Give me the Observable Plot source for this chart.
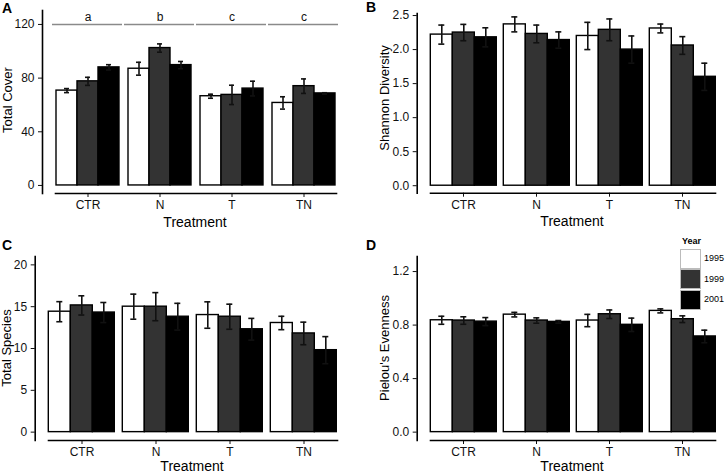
<!DOCTYPE html>
<html><head><meta charset="utf-8">
<script src="https://cdn.jsdelivr.net/npm/d3@7"></script>
<script src="https://cdn.jsdelivr.net/npm/@observablehq/plot@0.6"></script>
<style>
body{margin:0;background:#fff;}
#wrap{position:relative;width:728px;height:472px;overflow:hidden;font-family:"Liberation Sans",Arial,Helvetica,sans-serif;}
.panel{position:absolute;}
.lbl{position:absolute;white-space:nowrap;color:#000;line-height:1;transform:translate(-50%,-50%);}
.rot{transform:translate(-50%,-50%) rotate(-90deg);}
.tag{position:absolute;font-weight:bold;font-size:14px;line-height:1;color:#000;}
.key{position:absolute;width:21px;height:20px;box-sizing:border-box;border:1px solid #bbb;}
.klab{position:absolute;font-size:9px;line-height:1;color:#000;}
</style></head><body><div id="wrap"></div>
<script>
// ---- data (rows = treatments, columns = years) ----
const treatments = ["CTR", "N", "T", "TN"];
const years = ["1995", "1999", "2001"];
const yearColors = ["#ffffff", "#333333", "#000000"];

const coverMean = [[70.7, 77.6, 88.0], [87.0, 102.4, 89.7], [66.5, 67.5, 72.2], [61.5, 74.0, 68.6]];
const coverSE   = [[1.5, 3.0, 2.0], [4.8, 3.1, 2.7], [1.5, 7.2, 5.5], [4.6, 5.4, 0.5]];
const coverLetters = ["a", "b", "c", "c"];
const coverLetterLevel = 120;

const shannonMean = [[2.22, 2.25, 2.18], [2.37, 2.23, 2.14], [2.20, 2.29, 2.00], [2.31, 2.06, 1.60]];
const shannonSE   = [[0.14, 0.12, 0.14], [0.11, 0.13, 0.12], [0.20, 0.16, 0.20], [0.065, 0.13, 0.20]];

const speciesMean = [[14.4, 15.15, 14.3], [15.0, 15.0, 13.8], [14.0, 13.8, 12.3], [13.05, 11.8, 9.8]];
const speciesSE   = [[1.2, 1.15, 1.2], [1.5, 1.68, 1.6], [1.58, 1.5, 1.3], [0.8, 1.35, 1.62]];

const evenMean = [[0.836, 0.834, 0.826], [0.878, 0.834, 0.824], [0.834, 0.881, 0.802], [0.906, 0.844, 0.715]];
const evenSE   = [[0.03, 0.028, 0.03], [0.017, 0.02, 0.01], [0.046, 0.032, 0.05], [0.015, 0.025, 0.047]];

const coverTicks = [0, 40, 80, 120];
const shannonTicks = [0, 0.5, 1.0, 1.5, 2.0, 2.5];
const speciesTicks = [0, 5, 10, 15, 20];
const evenTicks = [0, 0.4, 0.8, 1.2];

// ---- helpers ----
function rows(means, ses) {
  return treatments.flatMap((t, i) => years.map((yr, j) => ({treatment: t, year: yr, mean: means[i][j], se: ses[i][j]})));
}
const FONT = '"Liberation Sans", Arial, Helvetica, sans-serif';
const STYLE = {fontFamily: FONT, fontSize: "12px", color: "#111", background: "transparent", overflow: "visible"};

function panel(o) {
  const data = rows(o.means, o.ses);
  const dims = {width: o.width, height: o.height, marginLeft: o.ml, marginRight: o.mr, marginTop: o.mt, marginBottom: o.mb};
  const main = Plot.plot({
    ...dims,
    style: STYLE,
    fx: {domain: treatments, paddingInner: 0.1, paddingOuter: 0.15, axis: "bottom", label: null, tickSize: 4, tickPadding: 3},
    x: {domain: years, padding: 0, axis: null},
    y: {domain: o.domain, axis: null},
    color: {domain: years, range: yearColors},
    marks: [
      Plot.barY(data, {fx: "treatment", x: "year", y: "mean", fill: "year", stroke: "#000", strokeWidth: 1.4}),
      Plot.ruleX(data, {fx: "treatment", x: "year", y1: d => d.mean - d.se, y2: d => d.mean + d.se, stroke: "#111", strokeWidth: 1.6}),
      Plot.tickY(data, {fx: "treatment", x: "year", y: d => d.mean + d.se, insetLeft: 8, insetRight: 8, stroke: "#111", strokeWidth: 1.6}),
      Plot.tickY(data, {fx: "treatment", x: "year", y: d => d.mean - d.se, insetLeft: 8, insetRight: 8, stroke: "#111", strokeWidth: 1.6}),
      ...(o.extra || []),
      Plot.frame({facet: "super", anchor: "bottom", stroke: "#000", strokeWidth: 1.6})
    ]
  });
  // overlay with the y axis, anchored at the panel's left edge (same y scale)
  const axis = Plot.plot({
    ...dims,
    style: STYLE,
    y: {domain: o.domain, axis: null},
    marks: [
      Plot.axisY({ticks: o.ticks, tickFormat: o.fmt, tickSize: 4, tickPadding: 4, label: null, fontSize: 12}),
      Plot.frame({anchor: "left", stroke: "#000", strokeWidth: 1.6})
    ]
  });
  return [main, axis];
}

const wrap = document.getElementById("wrap");
function place(nodes, left, top) {
  for (const node of nodes) {
    node.classList.add("panel");
    node.style.left = left + "px";
    node.style.top = top + "px";
    wrap.appendChild(node);
  }
}
function label(text, x, y, size, rotate) {
  const d = document.createElement("div");
  d.className = "lbl" + (rotate ? " rot" : "");
  d.textContent = text;
  d.style.left = x + "px";
  d.style.top = y + "px";
  d.style.fontSize = size + "px";
  wrap.appendChild(d);
}
function tag(text, x, y) {
  const d = document.createElement("div");
  d.className = "tag";
  d.textContent = text;
  d.style.left = x + "px";
  d.style.top = y + "px";
  wrap.appendChild(d);
}

// Panel A
const letterData = treatments.map((t, i) => ({treatment: t, letter: coverLetters[i]}));
place(panel({
  means: coverMean, ses: coverSE, domain: [-6, 130.4], ticks: coverTicks, fmt: d3.format("d"),
  width: 364, height: 236, ml: 42, mr: 16, mt: 10, mb: 43,
  extra: [
    Plot.ruleY(letterData, {fx: "treatment", y: () => coverLetterLevel, insetLeft: -3, insetRight: -2, stroke: "#8a8a8a", strokeWidth: 1.5}),
    Plot.text(letterData, {fx: "treatment", y: () => coverLetterLevel, text: "letter", frameAnchor: "middle", dy: -7, fontSize: 12, fill: "#111"})
  ]
}), 0, 0);

// Panel B
place(panel({
  means: shannonMean, ses: shannonSE, domain: [-0.11, 2.53], ticks: shannonTicks, fmt: d3.format(".1f"),
  width: 364, height: 236, ml: 52.7, mr: 1, mt: 13, mb: 43.3
}), 364, 0);

// Panel C
place(panel({
  means: speciesMean, ses: speciesSE, domain: [-1, 21], ticks: speciesTicks, fmt: d3.format("d"),
  width: 364, height: 236, ml: 34.7, mr: 14.7, mt: 20, mb: 32
}), 0, 236);

// Panel D
place(panel({
  means: evenMean, ses: evenSE, domain: [-0.0625, 1.3125], ticks: evenTicks, fmt: d3.format(".1f"),
  width: 364, height: 236, ml: 52.7, mr: 1, mt: 20, mb: 32
}), 364, 236);

// titles
label("Treatment", 195, 221.5, 14);
label("Treatment", 572, 221, 14);
label("Treatment", 192, 465.5, 14);
label("Treatment", 572, 465.5, 14);
label("Total Cover", 7, 100, 13, true);
label("Shannon Diversity", 384, 98, 13, true);
label("Total Species", 6, 348, 13, true);
label("Pielou's Evenness", 384, 348, 13, true);
tag("A", 2, 1);
tag("B", 366, 0);
tag("C", 2, 238);
tag("D", 366, 238);

// legend
const lt = document.createElement("div");
lt.className = "klab";
lt.style.fontWeight = "bold";
lt.textContent = "Year";
lt.style.left = "682px"; lt.style.top = "237px";
wrap.appendChild(lt);
years.forEach((yr, i) => {
  const k = document.createElement("div");
  k.className = "key";
  k.style.left = "680px";
  k.style.top = (248.5 + i * 20.7) + "px";
  k.style.background = yearColors[i];
  wrap.appendChild(k);
  const t = document.createElement("div");
  t.className = "klab";
  t.textContent = yr;
  t.style.left = "704px";
  t.style.top = (254 + i * 20.7) + "px";
  wrap.appendChild(t);
});
</script></body></html>
